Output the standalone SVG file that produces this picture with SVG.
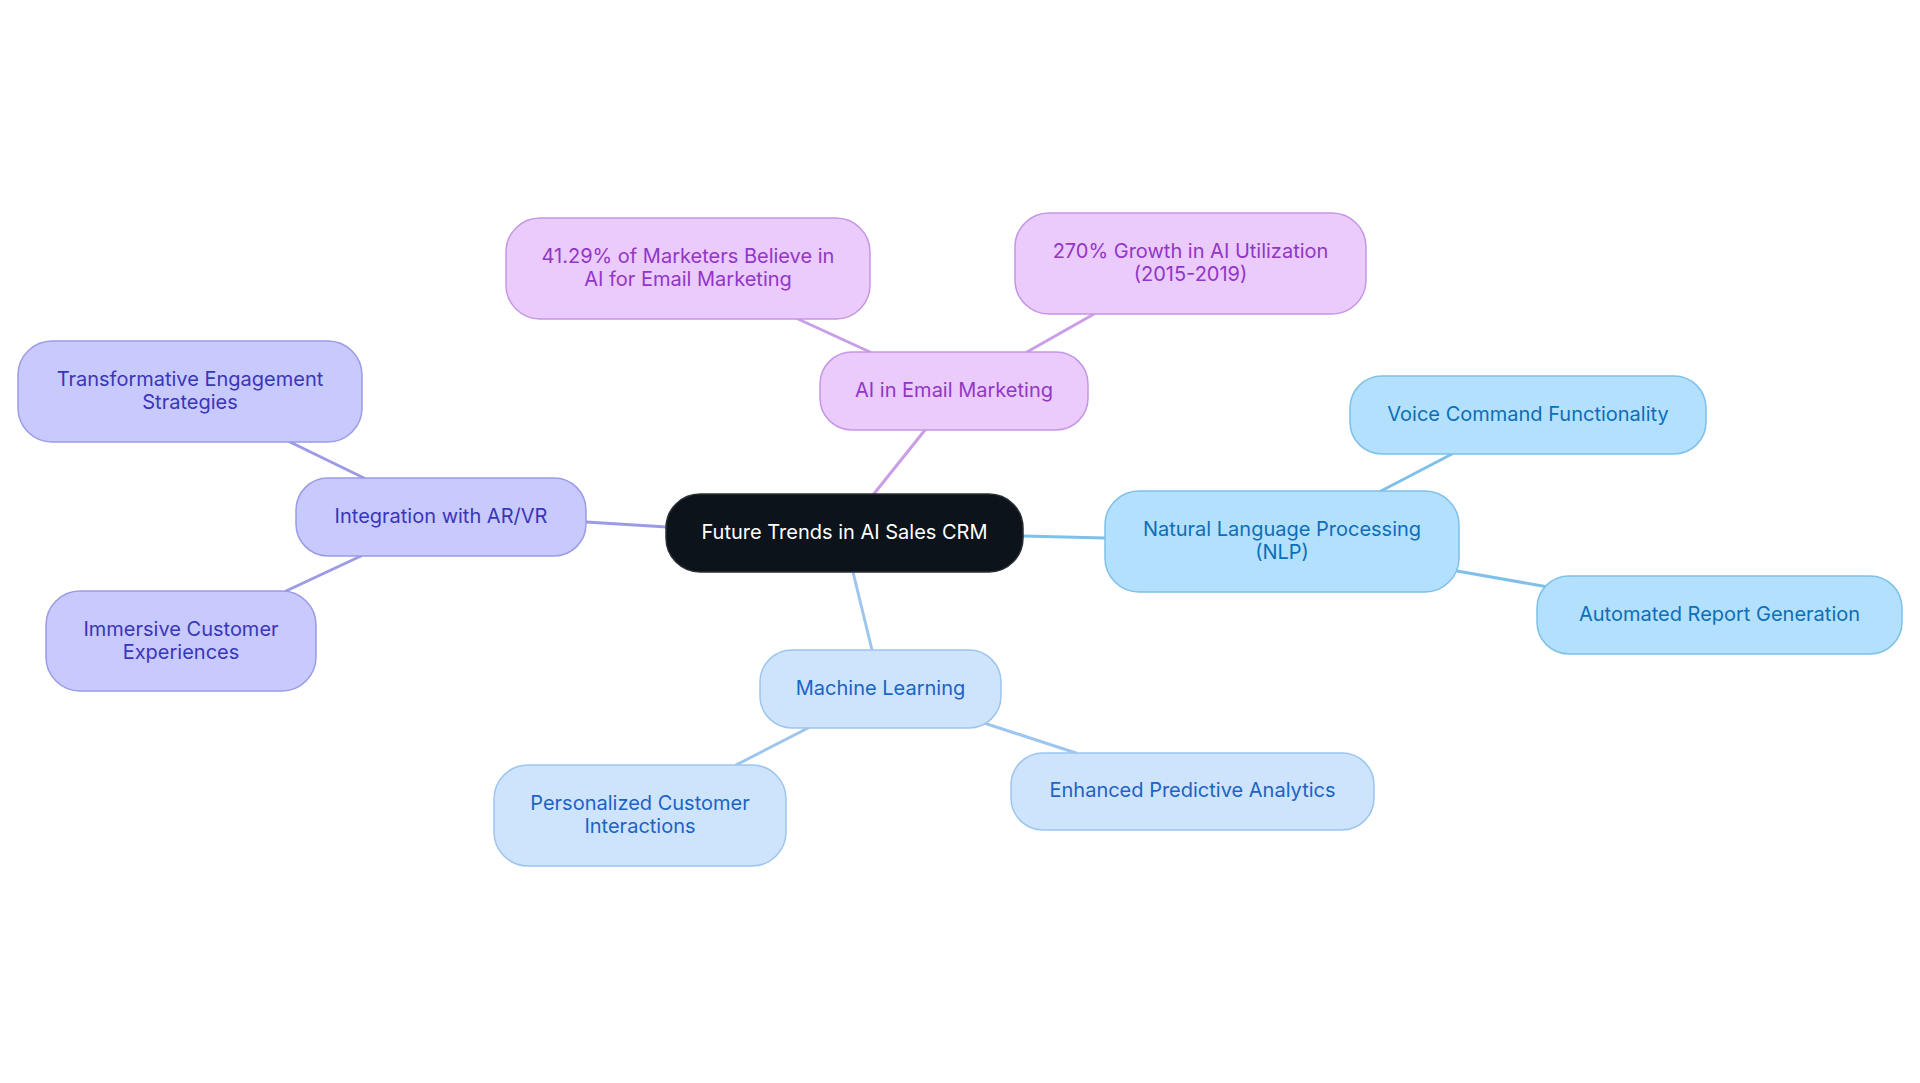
<svg xmlns="http://www.w3.org/2000/svg" width="1920" height="1083" viewBox="0 0 1920 1083">
<style>
text{font-family:Inter,"Noto Sans",sans-serif;font-size:20px;text-anchor:middle;dominant-baseline:central}
.c line{stroke-width:3;stroke-linecap:round}
.em rect{fill:#ebcafc;stroke:#c596e6;stroke-width:1.5}
.em text{fill:#9137c6}
.ar rect{fill:#c8c9fd;stroke:#9b9be8;stroke-width:1.5}
.ar text{fill:#3a36b8}
.nl rect{fill:#b3e0fd;stroke:#7ec0ea;stroke-width:1.5}
.nl text{fill:#0c6fb8}
.ml rect{fill:#cde4fc;stroke:#9dc5ee;stroke-width:1.5}
.ml text{fill:#1c63c4}
.ce rect{fill:#0c131b;stroke:#2a2f36;stroke-width:1.5}
.ce text{fill:#ffffff}
</style>
<rect width="1920" height="1083" fill="#ffffff"/>
<g id="connectors" class="c">
<line x1="873" y1="495" x2="925" y2="430" stroke="#c99de8"/>
<line x1="870" y1="352" x2="798" y2="319" stroke="#c99de8"/>
<line x1="1027" y1="352" x2="1094" y2="314" stroke="#c99de8"/>
<line x1="667" y1="527" x2="586" y2="522" stroke="#9d9ae6"/>
<line x1="364" y1="478" x2="290" y2="442" stroke="#9d9ae6"/>
<line x1="361" y1="556" x2="286" y2="591" stroke="#9d9ae6"/>
<line x1="1023" y1="536" x2="1105" y2="538" stroke="#7ec0ea"/>
<line x1="1381" y1="491" x2="1452" y2="454" stroke="#7ec0ea"/>
<line x1="1457" y1="571" x2="1548" y2="587" stroke="#7ec0ea"/>
<line x1="853" y1="572" x2="872" y2="650" stroke="#9dc5ee"/>
<line x1="808" y1="728" x2="736" y2="765" stroke="#9dc5ee"/>
<line x1="984" y1="723" x2="1076" y2="753" stroke="#9dc5ee"/>
</g>
<g id="root" class="ce"><rect x="666" y="494" width="357" height="78" rx="34"/><text x="844.5" y="531.5">Future Trends in AI Sales CRM</text></g>
<g id="email" class="em"><rect x="820" y="352" width="268" height="78" rx="32"/><text x="954" y="389.5">AI in Email Marketing</text></g>
<g id="email-1" class="em"><rect x="506" y="218" width="364" height="101" rx="34"/><text x="688" y="255.5">41.29% of Marketers Believe in</text><text x="688" y="278.5">AI for Email Marketing</text></g>
<g id="email-2" class="em"><rect x="1015" y="213" width="351" height="101" rx="34"/><text x="1190.5" y="250.5">270% Growth in AI Utilization</text><text x="1190.5" y="273.5">(2015-2019)</text></g>
<g id="arvr" class="ar"><rect x="296" y="478" width="290" height="78" rx="32"/><text x="441" y="515.5">Integration with AR/VR</text></g>
<g id="arvr-1" class="ar"><rect x="18" y="341" width="344" height="101" rx="34"/><text x="190" y="378.5">Transformative Engagement</text><text x="190" y="401.5">Strategies</text></g>
<g id="arvr-2" class="ar"><rect x="46" y="591" width="270" height="100" rx="34"/><text x="181" y="628.5">Immersive Customer</text><text x="181" y="651.5">Experiences</text></g>
<g id="nlp" class="nl"><rect x="1105" y="491" width="354" height="101" rx="34"/><text x="1282" y="528.5">Natural Language Processing</text><text x="1282" y="551.5">(NLP)</text></g>
<g id="nlp-1" class="nl"><rect x="1350" y="376" width="356" height="78" rx="32"/><text x="1528" y="413.5">Voice Command Functionality</text></g>
<g id="nlp-2" class="nl"><rect x="1537" y="576" width="365" height="78" rx="32"/><text x="1719.5" y="613.5">Automated Report Generation</text></g>
<g id="ml" class="ml"><rect x="760" y="650" width="241" height="78" rx="32"/><text x="880.5" y="687.5">Machine Learning</text></g>
<g id="ml-1" class="ml"><rect x="494" y="765" width="292" height="101" rx="34"/><text x="640" y="802.5">Personalized Customer</text><text x="640" y="825.5">Interactions</text></g>
<g id="ml-2" class="ml"><rect x="1011" y="753" width="363" height="77" rx="32"/><text x="1192.5" y="790">Enhanced Predictive Analytics</text></g>
</svg>
